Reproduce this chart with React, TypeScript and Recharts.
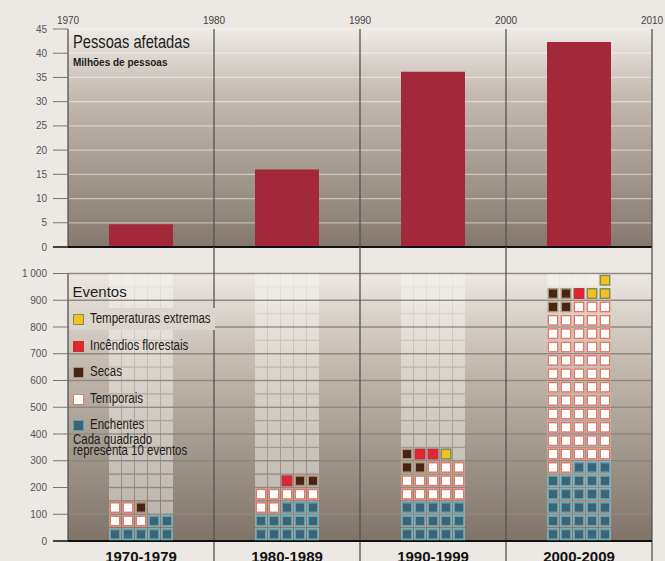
import React from 'react';
import {
  ComposedChart,
  Bar,
  ScatterChart,
  Scatter,
  XAxis,
  YAxis,
  CartesianGrid,
  ReferenceLine,
} from 'recharts';

const anos = [1970, 1980, 1990, 2000, 2010];
const decadas = ['1970-1979', '1980-1989', '1990-1999', '2000-2009'];
const meioDecada = [1975, 1985, 1995, 2005];
const pessoasAfetadas = [4.7, 16, 36.2, 42.3]; // milhões de pessoas
const ticksPessoas = [0, 5, 10, 15, 20, 25, 30, 35, 40, 45];
const ticksEventos = [0, 100, 200, 300, 400, 500, 600, 700, 800, 900, 1000];

// cada quadrado = 10 eventos, 5 por linha, linha de baixo primeiro
// E enchentes, T temporais, S secas, I incêndios, X temperaturas extremas, . vazio
const grade1970 = ['EEEEE', 'TTTEE', 'TTS..'];
const grade1980 = ['EEEEE', 'EEEEE', 'TTEEE', 'TTTTT', '..ISS'];
const grade1990 = ['EEEEE', 'EEEEE', 'EEEEE', 'TTTTT', 'TTTTT', 'SSTTT', 'SIIX.'];
const grade2000 = [
  'EEEEE', 'EEEEE', 'EEEEE', 'EEEEE', 'EEEEE', 'TTEEE',
  'TTTTT', 'TTTTT', 'TTTTT', 'TTTTT', 'TTTTT', 'TTTTT',
  'TTTTT', 'TTTTT', 'TTTTT', 'TTTTT', 'TTTTT',
  'SSTTT', 'SSIXX', '....X',
];

const legendaCodigos = ['X', 'I', 'S', 'T', 'E'];
const legendaNomes = ['Temperaturas extremas', 'Incêndios florestais', 'Secas', 'Temporais', 'Enchentes'];

const cores: Record<string, { fill: string; stroke: string }> = {
  E: { fill: '#3c6474', stroke: '#5aa3b5' },
  T: { fill: '#ffffff', stroke: '#e07a66' },
  S: { fill: '#4a2317', stroke: '#a69676' },
  I: { fill: '#e2252f', stroke: '#b9343c' },
  X: { fill: '#f4c120', stroke: '#7f8f52' },
};

const PASSO = 0.89; // largura de uma coluna da grade, em anos
const grades = [grade1970, grade1980, grade1990, grade2000];

const fantasmas: { x: number; y: number }[] = [];
const celulas: { x: number; y: number; k: string }[] = [];
grades.forEach((g, d) => {
  for (let r = 0; r < 20; r++) {
    for (let c = 0; c < 5; c++) {
      fantasmas.push({ x: meioDecada[d] + (c - 2) * PASSO, y: r * 50 + 25 });
    }
  }
  g.forEach((linha, r) => {
    linha.split('').forEach((k, c) => {
      if (k !== '.') celulas.push({ x: meioDecada[d] + (c - 2) * PASSO, y: r * 50 + 25, k });
    });
  });
});

const dadosPessoas = meioDecada.map((x, i) => ({ x, v: pessoasAfetadas[i] }));

const Quadrado = (p: any) => {
  const c = cores[p.payload.k];
  return (
    <rect x={p.cx - 4.75} y={p.cy - 4.75} width={9.5} height={9.5} fill={c.fill} stroke={c.stroke} strokeWidth={1.5} />
  );
};

const Fantasma = (p: any) => (
  <rect x={p.cx - 6} y={p.cy - 6} width={12} height={12} fill="#fbf8f4" fillOpacity={0.45} />
);

const fonte = "'Liberation Sans', Arial, sans-serif";
const linhaCor = '#57534f';

const Estreito = ({ left, top, size, children, bold = false, scale = 0.82, lineHeight = 1 }: any) => (
  <div
    style={{
      position: 'absolute',
      left,
      top,
      fontSize: size,
      lineHeight,
      fontWeight: bold ? 700 : 400,
      color: '#1c1c1c',
      whiteSpace: 'nowrap',
      transform: `scaleX(${scale})`,
      transformOrigin: 'left center',
    }}
  >
    {children}
  </div>
);

export default function App() {
  const legendaY = [319.5, 346, 372.5, 399, 425.5];
  return (
    <div
      style={{
        position: 'fixed',
        top: 0,
        left: 0,
        width: 665,
        height: 561,
        overflow: 'hidden',
        background: '#ece8e3',
        fontFamily: fonte,
      }}
    >
      <div style={{ position: 'absolute', top: 0, left: 0 }}>
        <ComposedChart width={665} height={256} data={dadosPessoas} margin={{ top: 0, right: 13, bottom: 9, left: 0 }}>
          <defs>
            <linearGradient id="fundoTopo" x1="0" y1="0" x2="0" y2="1">
              <stop offset="0%" stopColor="#eeeae5" />
              <stop offset="30%" stopColor="#c4bab1" />
              <stop offset="100%" stopColor="#85796f" />
            </linearGradient>
          </defs>
          <CartesianGrid vertical={false} stroke="rgba(255,255,255,0.45)" strokeWidth={1.2} fill="url(#fundoTopo)" fillOpacity={1} />
          <XAxis
            type="number"
            dataKey="x"
            orientation="top"
            domain={[1970, 2010]}
            ticks={anos}
            interval={0}
            height={29}
            axisLine={false}
            tickLine={false}
            tickSize={0}
            tickMargin={5}
            tick={{ fontSize: 10, fill: '#444', fontFamily: fonte }}
          />
          <YAxis
            type="number"
            domain={[0, 45]}
            ticks={ticksPessoas}
            interval={0}
            width={68}
            axisLine={false}
            tickSize={15}
            tickMargin={6}
            tickLine={{ stroke: '#7a7572' }}
            tick={{ fontSize: 10, fill: '#555', fontFamily: fonte }}
          />
          <Bar dataKey="v" fill="#a3293a" barSize={64} isAnimationActive={false} />
          {anos.map((a) => (
            <ReferenceLine key={a} x={a} stroke={linhaCor} strokeWidth={1.3} />
          ))}
          <ReferenceLine
            segment={[{ x: 1968.97, y: 0 }, { x: 2010, y: 0 }]}
            stroke="#111"
            strokeWidth={2}
            ifOverflow="visible"
          />
        </ComposedChart>
      </div>

      <div style={{ position: 'absolute', top: 247, left: 0 }}>
        <ScatterChart width={665} height={314} margin={{ top: 26.5, right: 13, bottom: 0, left: 0 }}>
          <defs>
            <linearGradient id="fundoBase" x1="0" y1="0" x2="0" y2="1">
              <stop offset="0%" stopColor="#ece7e2" />
              <stop offset="35%" stopColor="#c2b8ae" />
              <stop offset="100%" stopColor="#807469" />
            </linearGradient>
          </defs>
          <CartesianGrid vertical={false} stroke="#8e8883" strokeWidth={1.3} fill="url(#fundoBase)" fillOpacity={1} />
          <XAxis
            type="number"
            dataKey="x"
            domain={[1970, 2010]}
            ticks={meioDecada}
            interval={0}
            tickFormatter={(v: number) => decadas[meioDecada.indexOf(v)]}
            height={20}
            axisLine={false}
            tickLine={false}
            tickSize={0}
            tickMargin={10}
            tick={{ fontSize: 15, fontWeight: 700, fill: '#111', fontFamily: fonte }}
          />
          <YAxis
            type="number"
            dataKey="y"
            domain={[0, 1000]}
            ticks={ticksEventos}
            interval={0}
            tickFormatter={(v: number) => (v === 1000 ? '1 000' : String(v))}
            width={68}
            axisLine={false}
            tickSize={15}
            tickMargin={6}
            tickLine={{ stroke: '#7a7572' }}
            tick={{ fontSize: 10, fill: '#555', fontFamily: fonte }}
          />
          <Scatter data={fantasmas} shape={Fantasma} isAnimationActive={false} />
          <Scatter data={celulas} shape={Quadrado} isAnimationActive={false} />
          <ReferenceLine x={1970} stroke={linhaCor} strokeWidth={1.3} />
          {anos.slice(1).map((a) => (
            <ReferenceLine
              key={a}
              segment={[{ x: a, y: -80 }, { x: a, y: 1100 }]}
              stroke={linhaCor}
              strokeWidth={1.3}
              ifOverflow="visible"
            />
          ))}
          <ReferenceLine
            segment={[{ x: 1968.97, y: 0 }, { x: 2010, y: 0 }]}
            stroke="#111"
            strokeWidth={2}
            ifOverflow="visible"
          />
        </ScatterChart>
      </div>

      {/* textos do painel superior */}
      <Estreito left={72.5} top={32.6} size={18.6} scale={0.79}>Pessoas afetadas</Estreito>
      <div style={{ position: 'absolute', left: 73, top: 57.6, fontSize: 10, lineHeight: 1, fontWeight: 700, color: '#1c1c1c' }}>
        Milhões de pessoas
      </div>

      {/* legenda */}
      <div style={{ position: 'absolute', left: 69, top: 308, width: 146, height: 22, background: '#dcd5ce' }} />
      <div style={{ position: 'absolute', left: 72.5, top: 284.4, fontSize: 15, lineHeight: 1, color: '#1c1c1c' }}>Eventos</div>
      {legendaCodigos.map((k, i) => (
        <React.Fragment key={k}>
          <div
            style={{
              position: 'absolute',
              left: 73,
              top: legendaY[i] - 5.5,
              width: 11,
              height: 11,
              boxSizing: 'border-box',
              background: cores[k].fill,
              border: `1.5px solid ${cores[k].stroke}`,
            }}
          />
          <Estreito left={90} top={legendaY[i] - 8.3} size={14}>
            {legendaNomes[i]}
          </Estreito>
        </React.Fragment>
      ))}
      <Estreito left={72.5} top={433.9} size={14} lineHeight="11.6px">
        Cada quadrado
        <br />
        representa 10 eventos
      </Estreito>
    </div>
  );
}
